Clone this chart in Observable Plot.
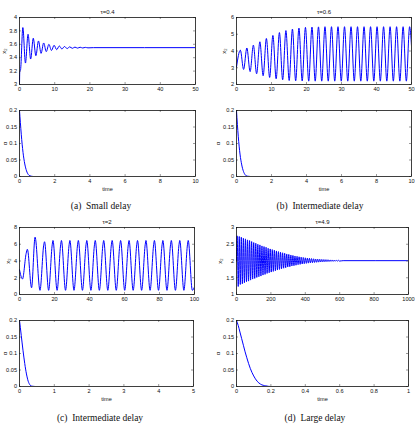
<!DOCTYPE html>
<html>
<head>
<meta charset="utf-8">
<script src="https://cdn.jsdelivr.net/npm/d3@7"></script>
<script src="https://cdn.jsdelivr.net/npm/@observablehq/plot@0.6"></script>
<style>
  html, body { margin: 0; padding: 0; background: #fff; }
  #fig { position: relative; width: 417px; height: 427px; overflow: hidden; background: #fff; }
  #fig svg { position: absolute; }
  .cap { position: absolute; width: 160px; text-align: center; font-family: "Liberation Serif", "Times New Roman", serif; font-size: 9.5px; line-height: 12px; color: #111; white-space: pre; }
</style>
</head>
<body>
<div id="fig"></div>
<script>
// ---- x2(t), tau = 0.4 : damped oscillation settling near 3.55 ----
const tA = [0, 0.08, 0.3, 0.95, 1.69, 2.43, 3.17, 3.91, 4.65, 5.39, 6.13, 6.87, 7.61, 8.35, 9.09, 9.83,
  10.57, 11.31, 12.05, 12.79, 13.53, 14.27, 15.01, 15.75, 16.49, 17.23, 17.97, 18.71, 19.45, 21, 50];
const xA = [3.0, 3.19, 3.22, 3.85, 3.32, 3.75, 3.38, 3.69, 3.43, 3.65, 3.465, 3.62, 3.49, 3.60, 3.508, 3.585,
  3.52, 3.575, 3.53, 3.567, 3.536, 3.562, 3.54, 3.558, 3.543, 3.556, 3.545, 3.554, 3.547, 3.55, 3.55];

// ---- x2(t), tau = 0.6 : growing oscillation to a limit cycle ----
const tB = [0, 1.10, 2.03, 2.96, 3.89, 4.82, 5.75, 6.68, 7.61, 8.54, 9.47, 10.40, 11.33, 12.26, 13.19,
  14.12, 15.05, 15.98, 16.91, 17.84, 18.77, 19.70, 20.63, 21.56, 22.49, 23.42, 24.35, 25.28, 26.21,
  27.14, 28.07, 29.00, 29.93, 30.86, 31.79, 32.72, 33.65, 34.58, 35.51, 36.44, 37.37, 38.30, 39.23,
  40.16, 41.09, 42.02, 42.95, 43.88, 44.81, 45.74, 46.67, 47.60, 48.53, 49.46, 50];
const xB = [3.05, 4.05, 2.9, 4.18, 2.77, 4.35, 2.64, 4.55, 2.52, 4.75, 2.42, 4.93, 2.34, 5.1, 2.28,
  5.22, 2.24, 5.31, 2.22, 5.37, 2.21, 5.41, 2.2, 5.43, 2.2, 5.44, 2.2, 5.45, 2.2,
  5.45, 2.2, 5.45, 2.2, 5.45, 2.2, 5.45, 2.2, 5.45, 2.2, 5.45, 2.2, 5.45, 2.2,
  5.45, 2.2, 5.45, 2.2, 5.45, 2.2, 5.45, 2.2, 5.45, 2.2, 5.45, 4.3];

// ---- x2(t), tau = 2 : relaxation-type periodic orbit (shoulder, peak, trough per cycle) ----
const tC = [0, 1.7, 3.8, 4.5, 6.9, 8.9, 11.7,
  13.90, 14.30, 16.65, 18.73, 19.13, 21.48, 23.56, 23.96, 26.31, 28.39, 28.79, 31.14,
  33.22, 33.62, 35.97, 38.05, 38.45, 40.80, 42.88, 43.28, 45.63, 47.71, 48.11, 50.46,
  52.54, 52.94, 55.29, 57.37, 57.77, 60.12, 62.20, 62.60, 64.95, 67.03, 67.43, 69.78,
  71.86, 72.26, 74.61, 76.69, 77.09, 79.44, 81.52, 81.92, 84.27, 86.35, 86.75, 89.10,
  91.18, 91.58, 93.93, 96.01, 96.41, 98.76, 100];
const xC = [2.95, 1.85, 4.9, 5.4, 0.8, 6.85, 0.5,
  6.0, 6.3, 0.5, 6.0, 6.45, 0.5, 6.0, 6.45, 0.5, 6.0, 6.45, 0.5,
  6.0, 6.45, 0.5, 6.0, 6.45, 0.5, 6.0, 6.45, 0.5, 6.0, 6.45, 0.5,
  6.0, 6.45, 0.5, 6.0, 6.45, 0.5, 6.0, 6.45, 0.5, 6.0, 6.45, 0.5,
  6.0, 6.45, 0.5, 6.0, 6.45, 0.5, 6.0, 6.45, 0.5, 6.0, 6.45, 0.5,
  6.0, 6.45, 0.5, 6.0, 6.45, 0.5, 0.9];

// ---- x2(t), tau = 4.9 : fast oscillation decaying toward 2.01 (alternating peaks / troughs) ----
const tD = [0,
  4, 10, 16, 22, 28, 34, 40, 46, 52, 58, 64, 70, 76, 82, 88, 94, 100, 106, 112, 118,
  124, 130, 136, 142, 148, 154, 160, 166, 172, 178, 184, 190, 196, 202, 208, 214, 220, 226,
  232, 238, 244, 250, 256, 262, 268, 274, 280, 286, 292, 298, 304, 310, 316, 322, 328, 334,
  340, 346, 352, 358, 364, 370, 376, 382, 388, 394, 400, 406, 412, 418, 424, 430, 436, 442,
  448, 454, 460, 466, 472, 478, 484, 490, 496, 502, 508, 514,
  520, 526, 532, 538, 544, 550, 556, 562, 568, 574, 580, 586, 592, 598, 620, 1000];
const xD = [2.0,
  2.75, 1.24, 2.73, 1.30, 2.71, 1.32, 2.68, 1.35, 2.66, 1.38, 2.63, 1.40, 2.61, 1.43, 2.58, 1.46, 2.55, 1.48, 2.53, 1.51,
  2.50, 1.53, 2.48, 1.55, 2.45, 1.58, 2.43, 1.60, 2.41, 1.63, 2.38, 1.65, 2.36, 1.67, 2.34, 1.69, 2.32, 1.71,
  2.30, 1.73, 2.28, 1.75, 2.26, 1.77, 2.245, 1.785, 2.23, 1.80, 2.21, 1.82, 2.195, 1.83, 2.18, 1.85, 2.165, 1.86,
  2.15, 1.875, 2.14, 1.89, 2.125, 1.90, 2.115, 1.91, 2.105, 1.92, 2.095, 1.93, 2.087, 1.937, 2.08, 1.944, 2.072, 1.951,
  2.066, 1.957, 2.06, 1.962, 2.056, 1.966, 2.052, 1.971, 2.047, 1.975, 2.043, 1.979,
  2.04, 1.982, 2.037, 1.985, 2.034, 1.988, 2.031, 1.99, 2.028, 1.993, 2.025, 1.996, 2.022, 1.998, 2.01, 2.01];

// ---- alpha(t) for the four delays ----
const tAlphaA = [0, 0.05, 0.1, 0.15, 0.2, 0.3, 0.4, 0.5, 0.6, 0.8, 10];
const alphaA  = [0.2, 0.163, 0.128, 0.098, 0.073, 0.038, 0.017, 0.006, 0.002, 0, 0];
const tAlphaB = [0, 0.05, 0.1, 0.15, 0.2, 0.3, 0.4, 0.5, 0.6, 0.8, 10];
const alphaB  = [0.2, 0.158, 0.122, 0.092, 0.068, 0.035, 0.015, 0.005, 0.001, 0, 0];
const tAlphaC = [0, 0.025, 0.05, 0.075, 0.1, 0.15, 0.2, 0.25, 0.3, 0.35, 0.45, 5];
const alphaC  = [0.2, 0.178, 0.155, 0.132, 0.11, 0.07, 0.038, 0.016, 0.005, 0.001, 0, 0];
const tAlphaD = [0, 0.01, 0.02, 0.03, 0.04, 0.05, 0.06, 0.08, 0.1, 0.12, 0.14, 0.17, 0.2, 1];
const alphaD  = [0.2, 0.185, 0.165, 0.145, 0.125, 0.105, 0.087, 0.055, 0.032, 0.016, 0.007, 0.002, 0, 0];

// ---- tick values and labels ----
const alphaTicks = [0, 0.05, 0.1, 0.15, 0.2];
const titles = ["τ=0.4", "τ=0.6", "τ=2", "τ=4.9"];
const captions = ["(a)  Small delay", "(b)  Intermediate delay", "(c)  Intermediate delay", "(d)  Large delay"];

const panels = [
  {frame: [19, 16.5, 195, 83.5], xd: [0, 50], yd: [3, 4], xt: [0, 10, 20, 30, 40, 50], yt: [3, 3.2, 3.4, 3.6, 3.8, 4],
   t: tA, v: xA, title: titles[0], yl: "x₂", ylDx: -15},
  {frame: [19, 110, 195, 176], xd: [0, 10], yd: [0, 0.2], xt: [0, 2, 4, 6, 8, 10], yt: alphaTicks,
   t: tAlphaA, v: alphaA, yl: "α", ylDx: -14.5, xl: "time"},
  {frame: [236, 16.5, 411, 83.5], xd: [0, 50], yd: [2, 6], xt: [0, 10, 20, 30, 40, 50], yt: [2, 3, 4, 5, 6],
   t: tB, v: xB, title: titles[1], yl: "x₂", ylDx: -12},
  {frame: [236, 110, 411, 176], xd: [0, 10], yd: [0, 0.2], xt: [0, 2, 4, 6, 8, 10], yt: alphaTicks,
   t: tAlphaB, v: alphaB, yl: "α", ylDx: -18, xl: "time"},
  {frame: [19, 227, 194, 294], xd: [0, 100], yd: [0, 8], xt: [0, 20, 40, 60, 80, 100], yt: [0, 2, 4, 6, 8],
   t: tC, v: xC, title: titles[2], yl: "x₂", ylDx: -11},
  {frame: [19, 320, 193, 386], xd: [0, 5], yd: [0, 0.2], xt: [0, 1, 2, 3, 4, 5], yt: alphaTicks,
   t: tAlphaC, v: alphaC, yl: "α", ylDx: -14.5, xl: "time"},
  {frame: [236, 227, 408, 294], xd: [0, 1000], yd: [1, 3], xt: [0, 200, 400, 600, 800, 1000], yt: [1, 1.5, 2, 2.5, 3],
   t: tD, v: xD, title: titles[3], yl: "x₂", ylDx: -16},
  {frame: [236, 320, 408, 386], xd: [0, 1], yd: [0, 0.2], xt: [0, 0.2, 0.4, 0.6, 0.8, 1], yt: alphaTicks,
   t: tAlphaD, v: alphaD, yl: "α", ylDx: -18, xl: "time"}
];

const fig = document.getElementById("fig");
const ML = 22, MR = 14, MT = 16, MB = 20, TICK = 2;
const fmt = d => String(d);

for (const p of panels) {
  const [x0, y0, x1, y1] = p.frame;
  const iw = x1 - x0, ih = y1 - y0;
  const data = p.t.map((t, i) => ({t, v: p.v[i]}));
  const marks = [
    Plot.line(data, {x: "t", y: "v", stroke: "#0000ff", strokeWidth: 1, curve: "monotone-x", clip: true}),
    // inward tick marks on all four sides
    Plot.tickX(p.xt, {x: d => d, insetTop: ih - TICK, stroke: "#555", strokeWidth: 0.6}),
    Plot.tickX(p.xt, {x: d => d, insetBottom: ih - TICK, stroke: "#555", strokeWidth: 0.6}),
    Plot.tickY(p.yt, {y: d => d, insetRight: iw - TICK, stroke: "#555", strokeWidth: 0.6}),
    Plot.tickY(p.yt, {y: d => d, insetLeft: iw - TICK, stroke: "#555", strokeWidth: 0.6}),
    Plot.axisX(p.xt, {tickSize: 0, tickPadding: 3, tickFormat: fmt, label: null, fontSize: 5.6}),
    Plot.axisY(p.yt, {tickSize: 0, tickPadding: 2.5, tickFormat: fmt, label: null, fontSize: 5.6}),
    Plot.frame({stroke: "#111", strokeWidth: 0.8}),
    Plot.text([p.yl], {frameAnchor: "left", dx: p.ylDx, rotate: -90, fontSize: 6.2, textAnchor: "middle", lineAnchor: "middle"})
  ];
  if (p.title) marks.push(Plot.text([p.title], {frameAnchor: "top", dy: -5.5, fontSize: 6, lineAnchor: "middle"}));
  if (p.xl) marks.push(Plot.text([p.xl], {frameAnchor: "bottom", dy: 13, fontSize: 5.6, lineAnchor: "middle"}));

  const svg = Plot.plot({
    width: iw + ML + MR,
    height: ih + MT + MB,
    marginLeft: ML, marginRight: MR, marginTop: MT, marginBottom: MB,
    x: {domain: p.xd, axis: null},
    y: {domain: p.yd, axis: null},
    style: {fontFamily: "'Liberation Sans', Arial, sans-serif", fontSize: "5.6px", color: "#111", background: "transparent", overflow: "visible"},
    marks
  });
  svg.style.left = (x0 - ML) + "px";
  svg.style.top = (y0 - MT) + "px";
  fig.appendChild(svg);
}

// sub-figure captions
const capPos = [[101, 206], [320, 206], [100, 418], [315, 418]];
captions.forEach((c, i) => {
  const d = document.createElement("div");
  d.className = "cap";
  d.textContent = c;
  d.style.left = (capPos[i][0] - 80) + "px";
  d.style.top = (capPos[i][1] - 6) + "px";
  fig.appendChild(d);
});
</script>
</body>
</html>
